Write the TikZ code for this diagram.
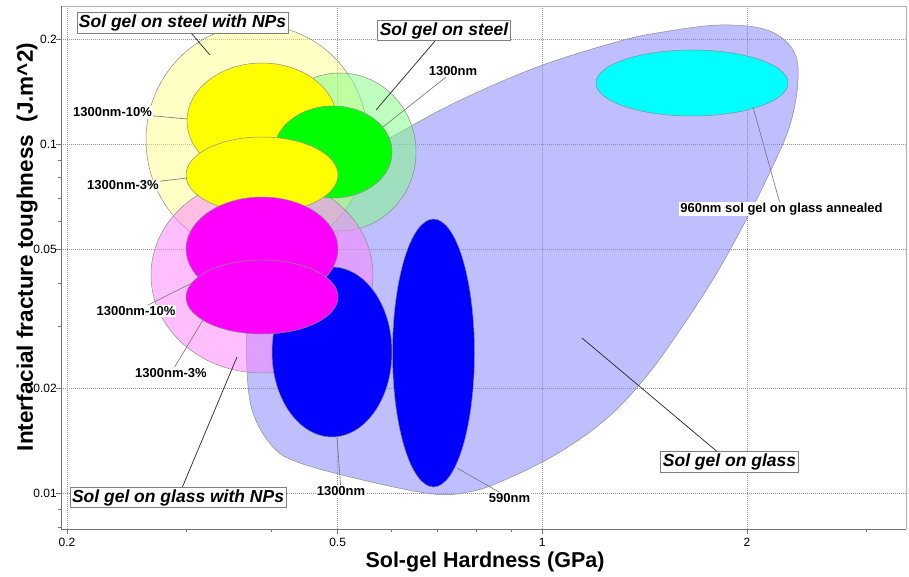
\documentclass[tikz,border=0pt]{standalone}
\usepackage{fontspec}
\setmainfont{Liberation Sans}
\definecolor{lav}{RGB}{128,128,255}
\definecolor{paley}{RGB}{255,255,128}
\definecolor{paleg}{RGB}{128,255,128}
\definecolor{palep}{RGB}{255,128,255}
\definecolor{edge}{RGB}{140,140,140}
\definecolor{gridc}{RGB}{150,150,150}
\definecolor{cyel}{RGB}{255,255,0}
\definecolor{cgrn}{RGB}{0,255,0}
\definecolor{cmag}{RGB}{255,0,255}
\definecolor{cblu}{RGB}{0,0,255}
\definecolor{ccya}{RGB}{0,255,255}
\begin{document}
\begin{tikzpicture}[x=1pt,y=-1pt,
  gridline/.style={gridc, dash pattern=on 1pt off 1pt, line width=0.5pt},
  soft/.style={draw=edge, line width=0.5pt, fill opacity=0.5},
  solid/.style={draw=edge, line width=0.5pt},
  boxlbl/.style={draw=gray, line width=0.8pt, fill=white, inner sep=2pt, font=\fontsize{17.5}{20}\selectfont\bfseries\itshape},
  smalllbl/.style={fill=white, inner sep=1pt, font=\fontsize{13}{15}\selectfont\bfseries},
  ticklbl/.style={inner sep=0pt, font=\fontsize{12}{14}\selectfont},
  lead/.style={line width=0.7pt, black!85},
  leadgray/.style={line width=0.6pt, black!55}]
\useasboundingbox (0,0) rectangle (909,577);
\fill[white] (0,0) rectangle (909,577);

% grid
\foreach \gx in {67,337.6,542.3,747}{\draw[gridline] (\gx,6) -- (\gx,529);}
\foreach \gy in {39,144,249.1,388,493}{\draw[gridline] (61,\gy) -- (906,\gy);}

% translucent regions
\path[soft, fill=lav] plot[smooth cycle, tension=0.6] coordinates {
 (413,125) (467,97) (540,66) (620,41) (663,32) (720,25) (767,30) (793,50) (798,80)
 (790,125) (770,172) (745,222) (715,276) (680,330) (645,378) (605,420) (555,455)
 (500,482) (468,492) (433,494) (367,481) (300,463) (273,447) (253,413) (247,370)
 (248,320) (262,265) (290,215) (340,168)};
\path[soft, fill=paley, fill opacity=0.45] (257,140) ellipse [x radius=111pt, y radius=115pt];
\path[soft, fill=paleg] (340,152) ellipse [x radius=76pt, y radius=79pt];
\path[soft, fill=palep] (262,275) ellipse [x radius=111pt, y radius=98pt];

% opaque ellipses
\path[solid, fill=cyel] (262,121) ellipse [x radius=75pt, y radius=58pt];
\path[solid, fill=cgrn] (333,152) ellipse [x radius=59pt, y radius=46pt];
\path[solid, fill=cyel] (262,175) ellipse [x radius=76pt, y radius=38pt];
\path[solid, fill=cblu] (332,352) ellipse [x radius=60pt, y radius=85pt];
\path[solid, fill=cblu] (433.5,353) ellipse [x radius=41pt, y radius=134pt];
\path[solid, fill=cmag] (262,249) ellipse [x radius=76pt, y radius=52pt];
\path[solid, fill=cmag] (262,297) ellipse [x radius=76pt, y radius=37pt];
\path[solid, fill=ccya] (692,83) ellipse [x radius=96pt, y radius=33pt];

% frame and ticks
\draw[gray!60, line width=0.6pt] (61,6) -- (906,6) -- (906,529);
\draw[gray!90!black, line width=0.9pt] (61,6) -- (61,529) -- (906,529);
\foreach \gx in {67,337.6,542.3,747}{\draw[gray!90!black, line width=0.7pt] (\gx,529) -- (\gx,534);}
\foreach \gx in {186.7,271.7,391.4,437,476.4,511.2,866.7}{\draw[gray!90!black, line width=0.6pt] (\gx,529) -- (\gx,532);}
\foreach \gy in {39,144,249.1,388,493}{\draw[gray!90!black, line width=0.7pt] (56,\gy) -- (61,\gy);}
\foreach \gy in {160,177.8,198,221.4,282.9,326.4,509,526.8}{\draw[gray!90!black, line width=0.6pt] (58,\gy) -- (61,\gy);}

% tick labels
\node[ticklbl] (x02) at (67,542) {0.2};
\node[ticklbl] (x05) at (337.6,542) {0.5};
\node[ticklbl] (x1) at (542.3,542) {1};
\node[ticklbl] (x2) at (747,542) {2};
\node[ticklbl, anchor=east] (y02) at (57,39) {0.2};
\node[ticklbl, anchor=east] (y01) at (57,144) {0.1};
\node[ticklbl, anchor=east] (y005) at (57,249.1) {0.05};
\node[ticklbl, anchor=east] (y002) at (57,388) {0.02};
\node[ticklbl, anchor=east] (y001) at (57,493) {0.01};

% axis titles
\node[font=\fontsize{21.5}{24}\selectfont\bfseries] (xtitle) at (485,562) {Sol-gel Hardness (GPa)};
\node[font=\fontsize{22.5}{25}\selectfont\bfseries, rotate=90] (ytitle) at (27,247) {Interfacial fracture toughness\ \ (J.m\^{}2)};

% leader targets
\coordinate (t-nps) at (210,55);
\coordinate (t-steel) at (376,110);
\coordinate (t-s1300) at (383,127);
\coordinate (t-y10) at (187,119);
\coordinate (t-y3) at (187,178);
\coordinate (t-m10) at (192,283);
\coordinate (t-m3) at (203,320);
\coordinate (t-gnps) at (237,357);
\coordinate (t-b1300) at (337,437);
\coordinate (t-b590) at (457,468);
\coordinate (t-glass) at (582,338);
\coordinate (t-ann) at (753,107);

% labels
\node[boxlbl] (nps) at (182.5,23) {Sol gel on steel with NPs};
\node[boxlbl] (steel) at (444,30.5) {Sol gel on steel};
\node[boxlbl] (glass) at (729.5,462) {Sol gel on glass};
\node[boxlbl] (gnps) at (178,497.5) {Sol gel on glass with NPs};
\node[smalllbl] (s1300) at (453,71.5) {1300nm};
\node[smalllbl] (y10) at (112.5,112) {1300nm-10\%};
\node[smalllbl] (y3) at (123,185.5) {1300nm-3\%};
\node[smalllbl] (m10) at (136,311) {1300nm-10\%};
\node[smalllbl] (m3) at (171,373) {1300nm-3\%};
\node[smalllbl] (b1300) at (341,491) {1300nm};
\node[smalllbl] (b590) at (509.5,498) {590nm};
\node[smalllbl] (ann) at (781.5,209) {960nm sol gel on glass annealed};

% leaders
\draw[lead] (nps) -- (t-nps);
\draw[lead] (steel) -- (t-steel);
\draw[lead] (glass) -- (t-glass);
\draw[lead] (gnps) -- (t-gnps);
\draw[leadgray] (s1300) -- (t-s1300);
\draw[leadgray] (y10) -- (t-y10);
\draw[leadgray] (y3) -- (t-y3);
\draw[leadgray] (m10) -- (t-m10);
\draw[leadgray] (m3) -- (t-m3);
\draw[leadgray] (b1300) -- (t-b1300);
\draw[leadgray] (b590) -- (t-b590);
\draw[leadgray] (ann) -- (t-ann);
\end{tikzpicture}
\end{document}
